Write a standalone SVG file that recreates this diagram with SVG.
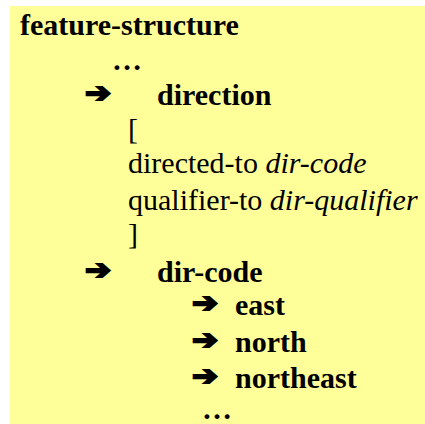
<svg xmlns="http://www.w3.org/2000/svg" width="425" height="424" viewBox="0 0 425 424">
<style>
.t{font-family:"Liberation Serif","Times New Roman",serif;font-size:30px;fill:#000}
.b{font-weight:bold}
.i{font-style:italic}
.a{font-family:"DejaVu Sans",sans-serif;font-size:27px;font-weight:bold;fill:#000;stroke:#000;stroke-width:2}
</style>
<rect x="0" y="0" width="425" height="424" fill="#ffffff"/>
<rect x="10" y="6" width="415" height="418" fill="#ffff99"/>
<g id="title"><text class="t b" x="20" y="35">feature-structure</text></g>
<g id="dots1"><text class="t b" x="112" y="70">…</text></g>
<g id="direction"><text class="a" x="85" y="102" textLength="26" lengthAdjust="spacingAndGlyphs">➔</text><text class="t b" x="157" y="105">direction</text></g>
<g id="frame">
<text class="t" x="128" y="139">[</text>
<text class="t" x="128" y="173">directed-to <tspan class="i">dir-code</tspan></text>
<text class="t" x="128" y="210">qualifier-to <tspan class="i">dir-qualifier</tspan></text>
<text class="t" x="128" y="244">]</text>
</g>
<g id="dir-code"><text class="a" x="85" y="279" textLength="26" lengthAdjust="spacingAndGlyphs">➔</text><text class="t b" x="157" y="282">dir-code</text></g>
<g id="east"><text class="a" x="192" y="312" textLength="26" lengthAdjust="spacingAndGlyphs">➔</text><text class="t b" x="235" y="315">east</text></g>
<g id="north"><text class="a" x="192" y="349" textLength="26" lengthAdjust="spacingAndGlyphs">➔</text><text class="t b" x="235" y="352">north</text></g>
<g id="northeast"><text class="a" x="192" y="385" textLength="26" lengthAdjust="spacingAndGlyphs">➔</text><text class="t b" x="235" y="388">northeast</text></g>
<g id="dots2"><text class="t b" x="202" y="419">…</text></g>
</svg>
